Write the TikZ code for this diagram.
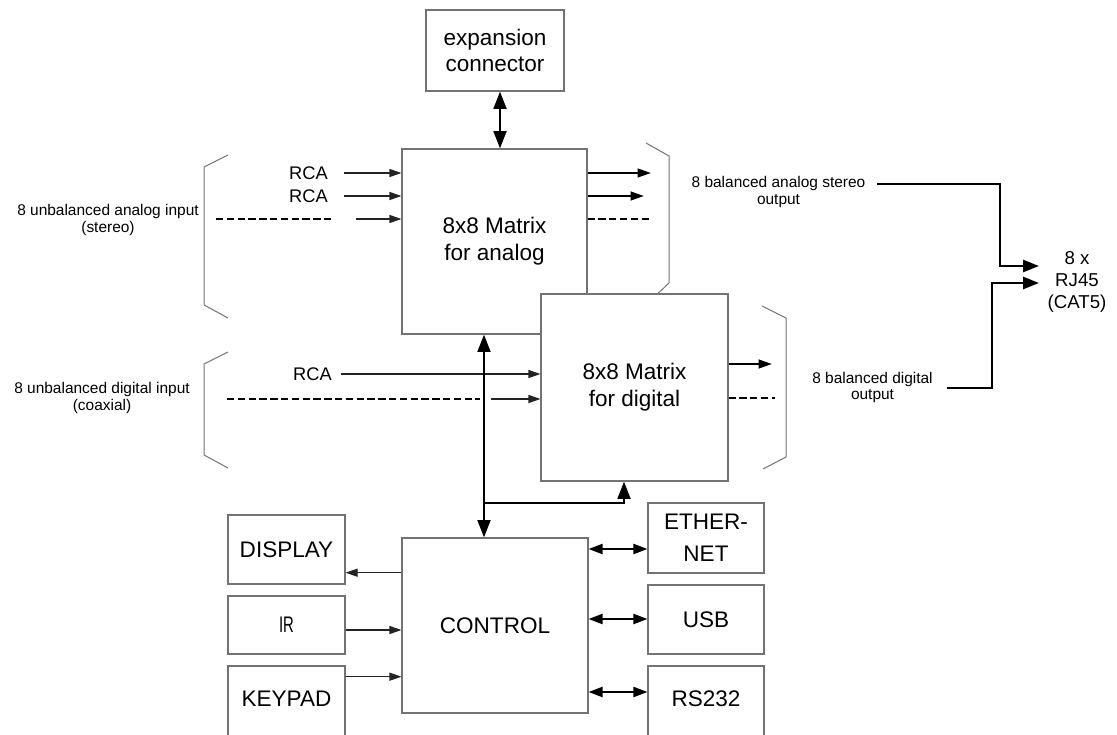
\documentclass[tikz,border=0pt]{standalone}
\usepackage{fontspec}
\setmainfont{Liberation Sans}
\usetikzlibrary{arrows.meta}
\definecolor{boxgray}{RGB}{115,115,115}
\definecolor{linedark}{RGB}{35,35,35}

\begin{document}
\begin{tikzpicture}[x=0.75pt,y=-0.75pt,
  sz/.style 2 args={minimum width=#1*0.75pt, minimum height=#2*0.75pt},
  box/.style={draw=boxgray, line width=0.8pt, fill=white, inner sep=0pt,
              align=center, font=\fontsize{16.9}{20}\selectfont},
  bracket/.style={draw=boxgray, line width=0.75pt},
  small/.style={align=center, inner sep=0pt, font=\fontsize{11.6}{12.6}\selectfont},
  rca/.style={inner sep=0pt, font=\fontsize{13.7}{16}\selectfont},
  thinarr/.style={draw=linedark, line width=0.8pt, -{Triangle[length=9pt,width=6pt]}},
  outarr/.style={draw=black, line width=1.5pt, -{Triangle[length=10pt,width=6.5pt]}},
  dasharr/.style={draw=black, line width=1.8pt, dash pattern=on 5.5pt off 2.6pt},
  busarr/.style={draw=black, line width=2.1pt, line join=miter},
  bustip/.style={-{Triangle[length=13pt,width=9.5pt]}},
  bustips/.style={{Triangle[length=13pt,width=9.5pt]}-{Triangle[length=13pt,width=9.5pt]}},
  linkarr/.style={draw=black, line width=1.5pt,
    {Triangle[length=10.5pt,width=7.5pt]}-{Triangle[length=10.5pt,width=7.5pt]}},
  rjarr/.style={draw=black, line width=2pt, line join=miter,
    -{Triangle[length=12pt,width=9pt]}}
]
\useasboundingbox (0,0) rectangle (1117,735);

% ---------- side brackets ----------
\draw[bracket] (228,155) -- (204,167) -- (204,305) -- (228,318);
\draw[bracket] (228,352) -- (204,364) -- (204,455) -- (228,468);
\draw[bracket] (646,143) -- (669,156) -- (669,283) -- (651,300);
\draw[bracket] (762,306) -- (786,318) -- (786,457) -- (763,469);

% ---------- input / output labels ----------
\node[small] (lin1) at (108,220) {8 unbalanced analog input\\(stereo)};
\node[small] (lin2) at (102,398) {8 unbalanced digital input\\(coaxial)};
\node[small] (lout1) at (778.5,192) {8 balanced analog stereo\\output};
\node[small] (lout2) at (872.5,387.5) {8 balanced digital\\output};
\node[align=center, inner sep=0pt, font=\fontsize{14}{16.3}\selectfont] (rj) at (1077,282) {8 x\\RJ45\\(CAT5)};

% ---------- matrix blocks ----------
\node[box, sz={138}{81}, font=\fontsize{16.9}{19}\selectfont] (exp) at (495,50.5) {expansion\\connector};
\node[box, sz={185}{185}] (ana) at (494.5,241.5) {8x8 Matrix\\for analog};

% analog inputs
\node[rca, anchor=east] (rca1) at (328,173) {RCA};
\node[rca, anchor=east] (rca2) at (328,196) {RCA};
\coordinate (a1) at (344,173);
\coordinate (a2) at (344,196);
\coordinate (a3) at (356,219);
\coordinate (ad0) at (216,219);
\coordinate (ad1) at (333,219);
\draw[thinarr] (a1) -- (a1 -| ana.west);
\draw[thinarr] (a2) -- (a2 -| ana.west);
\draw[thinarr] (a3) -- (a3 -| ana.west);
\draw[dasharr] (ad0) -- (ad1);

% analog outputs
\coordinate (o1) at (651,173);
\coordinate (o2) at (644,196);
\coordinate (o3) at (651,219);
\draw[outarr] (o1 -| ana.east) -- (o1);
\draw[outarr] (o2 -| ana.east) -- (o2);
\draw[dasharr] (o3 -| ana.east) -- (o3);

% digital block drawn over the analog one
\node[box, sz={187}{187}] (dig) at (634.5,387.5) {8x8 Matrix\\for digital};

% digital inputs
\node[rca, anchor=east] (rca3) at (332,374) {RCA};
\coordinate (d1) at (341,374);
\coordinate (d2) at (491,399);
\coordinate (dd0) at (227,399);
\coordinate (dd1) at (480,399);
\draw[thinarr] (d1) -- (d1 -| dig.west);
\draw[thinarr] (d2) -- (d2 -| dig.west);
\draw[dasharr] (dd0) -- (dd1);

% digital outputs
\coordinate (o4) at (772,364);
\coordinate (o5) at (775,398);
\draw[outarr] (o4 -| dig.east) -- (o4);
\draw[dasharr] (o5 -| dig.east) -- (o5);

% ---------- RJ45 outputs ----------
\coordinate (ao) at (877,184);
\coordinate (do) at (947,388);
\coordinate (rjA) at (1039,266);
\coordinate (rjD) at (1039,283);
\draw[rjarr] (ao) -- ++(123,0) |- (rjA);
\draw[rjarr] (do) -- ++(45,0) |- (rjD);

% ---------- control section ----------
\node[box, sz={186}{175}] (ctl) at (495,625.5) {CONTROL};
\node[box, sz={117}{69}] (disp) at (286.5,549.5) {DISPLAY};
\node[box, sz={117}{58}] (ir) at (286.5,625) {\scalebox{0.66}[1]{IR}};
\node[box, sz={117}{80}] (key) at (286.5,706) {};
\node[inner sep=0pt, font=\fontsize{16.9}{20}\selectfont] (keyt) at (286.5,699) {KEYPAD};
\node[box, sz={116}{70}, font=\fontsize{16.9}{24}\selectfont] (eth) at (706,538) {ETHER-\\NET};
\node[box, sz={116}{69}] (usb) at (706,619.5) {USB};
\node[box, sz={116}{80}] (rs) at (706,706) {};
\node[inner sep=0pt, font=\fontsize{16.9}{20}\selectfont] (rst) at (706,699) {RS232};

\coordinate (yd) at (0,572.7);
\coordinate (yi) at (0,630);
\coordinate (yk) at (0,676.7);
\draw[thinarr] (ctl.west |- yd) -- (disp.east |- yd);
\draw[thinarr] (ir.east |- yi) -- (ctl.west |- yi);
\draw[thinarr] (key.east |- yk) -- (ctl.west |- yk);

\coordinate (ye) at (0,549);
\coordinate (yu) at (0,619);
\coordinate (yr) at (0,692);
\draw[linkarr] (ctl.east |- ye) -- (eth.west |- ye);
\draw[linkarr] (ctl.east |- yu) -- (usb.west |- yu);
\draw[linkarr] (ctl.east |- yr) -- (rs.west |- yr);

% ---------- buses ----------
\coordinate (xe) at (500,0);
\draw[busarr, bustips] (exp.south -| xe) -- (ana.north -| xe);
\coordinate (xb) at (484,0);
\coordinate (bj) at (484,503);
\coordinate (xd) at (624,0);
\draw[busarr, bustips] (ana.south -| xb) -- (ctl.north -| xb);
\draw[busarr, bustip] (bj) -| (dig.south -| xd);
\end{tikzpicture}
\end{document}
